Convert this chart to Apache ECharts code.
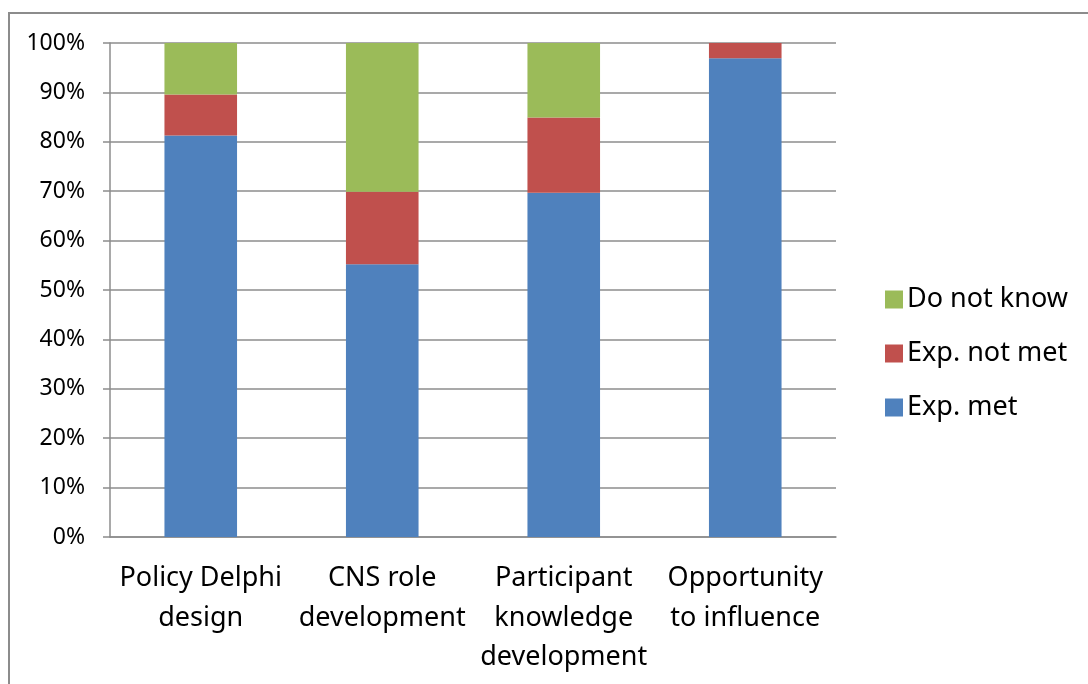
<!DOCTYPE html>
<html>
<head>
<meta charset="utf-8">
<script src="https://cdn.jsdelivr.net/npm/echarts@6/dist/echarts.min.js"></script>
<style>
html,body{margin:0;padding:0;background:#fff;}
#chart{width:1088px;height:684px;}
</style>
</head>
<body>
<div id="chart"></div>
<script>
// 数据
var categories = ['Policy Delphi\ndesign', 'CNS role\ndevelopment', 'Participant\nknowledge\ndevelopment', 'Opportunity\nto influence'];
var expMet = [81.3, 55.2, 69.7, 96.9];
var expNotMet = [8.3, 14.7, 15.2, 3.1];
var doNotKnow = [10.4, 30.1, 15.1, 0];
var legendNames = ['Do not know', 'Exp. not met', 'Exp. met'];

var fontFam = 'Noto Sans, sans-serif';
var gridLine = {color: '#8c8c8c', width: 1.5};

var buildStack = function(id){
    var option = {
        animation: false,
        color: ['#4F81BD', '#C0504D', '#9BBB59'],
        textStyle: {fontFamily: fontFam},
        grid: {left: 110, right: 252, top: 43, bottom: 147},
        graphic: [{
            type: 'rect',
            shape: {x: 9, y: 13, width: 1100, height: 700},
            style: {fill: 'none', stroke: '#8c8c8c', lineWidth: 2}
        }],
        legend: {
            orient: 'vertical',
            left: 880,
            top: 281,
            itemWidth: 18,
            itemHeight: 18,
            itemGap: 27,
            icon: 'rect',
            data: legendNames,
            textStyle: {fontSize: 27, color: '#000', fontFamily: fontFam, padding: [0, 0, 0, -1]}
        },
        xAxis: {
            type: 'category',
            data: categories,
            axisLine: {lineStyle: gridLine},
            axisTick: {length: 9, lineStyle: gridLine},
            axisLabel: {interval: 0, fontSize: 27, lineHeight: 39.5, margin: 22, color: '#000'}
        },
        yAxis: {
            type: 'value',
            min: 0,
            max: 100,
            interval: 10,
            axisLine: {show: true, lineStyle: gridLine},
            axisTick: {show: true, length: 7, lineStyle: gridLine},
            axisLabel: {formatter: '{value}%', fontSize: 23, margin: 25, color: '#000'},
            splitLine: {lineStyle: gridLine}
        },
        series: [
            {name: 'Exp. met', type: 'bar', stack: 'a', barWidth: '40%', data: expMet},
            {name: 'Exp. not met', type: 'bar', stack: 'a', data: expNotMet},
            {name: 'Do not know', type: 'bar', stack: 'a', data: doNotKnow}
        ]
    };
    var charts = echarts.init(document.getElementById(id));
    charts.setOption(option);
    return charts;
};
buildStack('chart');
</script>
</body>
</html>
